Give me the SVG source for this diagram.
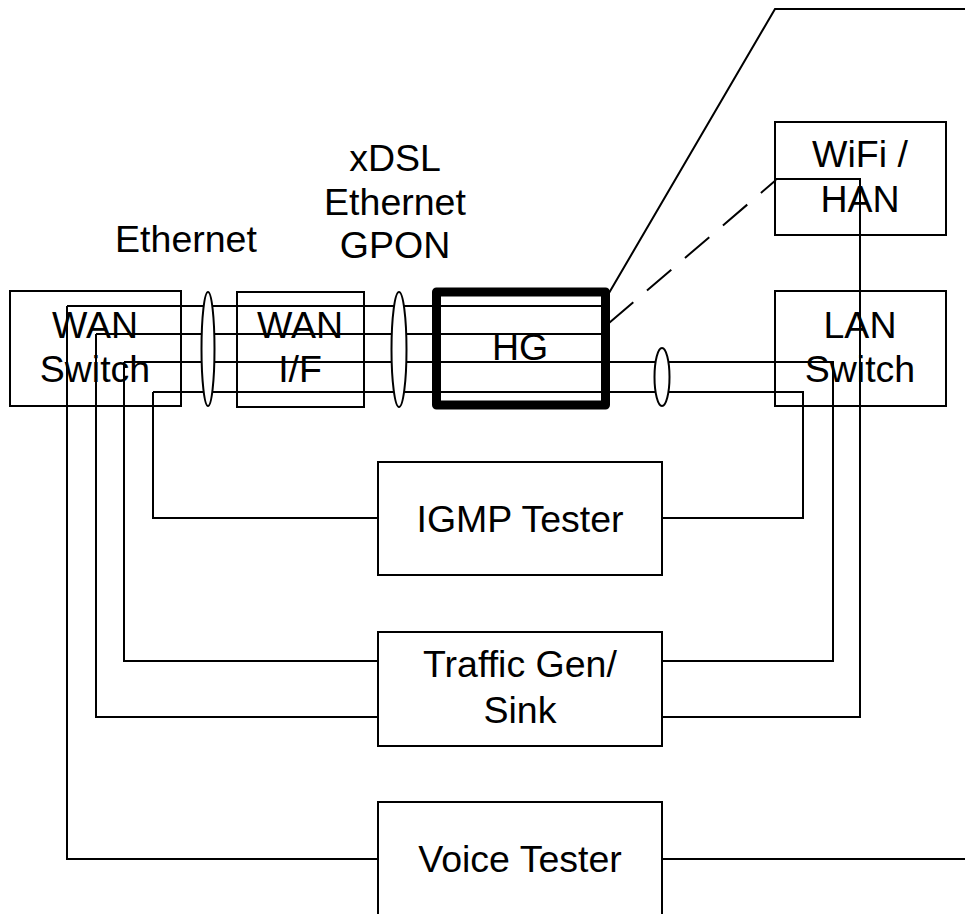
<svg xmlns="http://www.w3.org/2000/svg" width="965" height="914" viewBox="0 0 965 914">
<style>
.box{fill:none;stroke:#000;stroke-width:2}
.ln{fill:none;stroke:#000;stroke-width:2}
.ell{fill:#fff;stroke:#000;stroke-width:2}
text{font-family:"Liberation Sans",Arial,sans-serif;font-size:37.5px;fill:#000;text-anchor:middle}
</style>
<rect width="965" height="914" fill="#fff"/>
<g id="connectors">
<polyline class="ln" points="67,306 602,306"/>
<polyline class="ln" points="96,334 602,334"/>
<polyline class="ln" points="124,362 833,362 833,661 662,661"/>
<polyline class="ln" points="153,392 803,392 803,518 662,518"/>
<polyline class="ln" points="67,306 67,859 378,859"/>
<polyline class="ln" points="96,334 96,717 378,717"/>
<polyline class="ln" points="124,362 124,661 378,661"/>
<polyline class="ln" points="153,392 153,518 378,518"/>
<polyline class="ln" points="662,717 860,717 860,179 775,179"/>
<polyline class="ln" points="662,859 965,859"/>
<polyline class="ln" points="609,293 775,9 965,9"/>
<line class="ln" x1="609" y1="323" x2="776" y2="180" stroke-dasharray="32,18"/>
</g>
<g id="bundle1"><ellipse class="ell" cx="208" cy="349" rx="6.5" ry="57"/></g>
<g id="bundle2"><ellipse class="ell" cx="399" cy="349.5" rx="7.5" ry="57.5"/></g>
<g id="bundle3"><ellipse class="ell" cx="662" cy="377" rx="7.5" ry="29"/></g>
<g id="wan-switch"><rect class="box" x="10" y="291" width="171" height="115"/><text x="95" y="338">WAN</text><text x="95" y="382">Switch</text></g>
<g id="wan-if"><rect class="box" x="237" y="292" width="127" height="115"/><text x="300" y="338">WAN</text><text x="300" y="382">I/F</text></g>
<g id="hg"><rect x="436.5" y="292" width="169" height="113" fill="none" stroke="#000" stroke-width="9" stroke-linejoin="round"/><text x="520" y="360">HG</text></g>
<g id="lan-switch"><rect class="box" x="775" y="291" width="171" height="115"/><text x="860" y="338">LAN</text><text x="860" y="382">Switch</text></g>
<g id="wifi-han"><rect class="box" x="775" y="122" width="171" height="113"/><text x="860" y="167">WiFi /</text><text x="860" y="212">HAN</text></g>
<g id="igmp-tester"><rect class="box" x="378" y="462" width="284" height="113"/><text x="520" y="532">IGMP Tester</text></g>
<g id="traffic-gen"><rect class="box" x="378" y="632" width="284" height="114"/><text x="520" y="677">Traffic Gen/</text><text x="520" y="723">Sink</text></g>
<g id="voice-tester"><rect class="box" x="378" y="802" width="284" height="130"/><text x="520" y="872">Voice Tester</text></g>
<g id="labels">
<text x="186" y="252">Ethernet</text>
<text x="395" y="171">xDSL</text>
<text x="395" y="215">Ethernet</text>
<text x="395" y="258">GPON</text>
</g>
</svg>
